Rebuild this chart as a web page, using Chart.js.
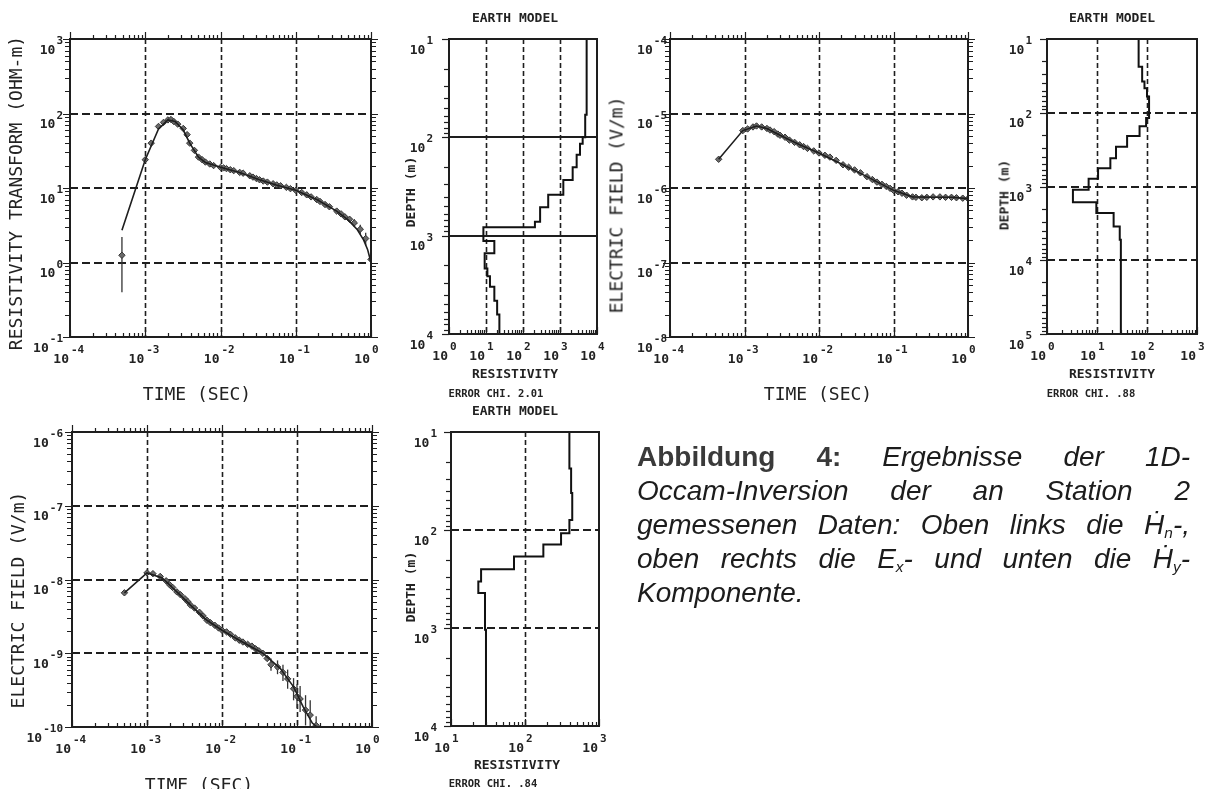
<!DOCTYPE html>
<html>
<head>
<meta charset="utf-8">
<script src="https://cdn.jsdelivr.net/npm/chart.js@4.4.1/dist/chart.umd.min.js"></script>
<style>
  body { margin: 0; background: #fff; }
  #page { position: relative; width: 1206px; height: 789px; overflow: hidden; background: #fff; }
  canvas { position: absolute; left: 0; top: 0; }
  .lbl { position: absolute; transform: translate(-50%, -50%); white-space: nowrap;
         font-family: "DejaVu Sans Mono", monospace; color: #222; }
  .rot { transform: translate(-50%, -50%) rotate(-90deg); }
  .ax { font-size: 18px; }
  .sm { font-size: 13px; font-weight: bold; }
  .xs { font-size: 10.5px; font-weight: bold; }
  #caption { position: absolute; left: 637px; top: 440px; width: 553px;
             font-family: "Liberation Sans", Arial, "DejaVu Sans", sans-serif; font-size: 28px; color: #1c1c1c; }
  .cl { height: 34px; line-height: 34px; }
  .j { text-align: justify; text-align-last: justify; }
  #caption b { color: #3a3a3a; }
  #caption sub { font-size: 55%; vertical-align: -0.25em; line-height: 0; }
</style>
</head>
<body>
<div id="page">
  <canvas id="c1" width="1206" height="789"></canvas>
  <canvas id="c2" width="1206" height="789"></canvas>
  <canvas id="c3" width="1206" height="789"></canvas>
  <canvas id="c4" width="1206" height="789"></canvas>
  <canvas id="c5" width="1206" height="789"></canvas>
  <canvas id="c6" width="1206" height="789"></canvas>

  <!-- top left: Hn resistivity transform -->
  <div class="lbl ax rot" style="left:15px; top:193px;">RESISTIVITY TRANSFORM (OHM-m)</div>
  <div class="lbl ax" style="left:197px; top:393px;">TIME (SEC)</div>

  <!-- earth model 1 -->
  <div class="lbl sm" style="left:515px; top:17px;">EARTH MODEL</div>
  <div class="lbl sm rot" style="left:410px; top:192px;">DEPTH (m)</div>
  <div class="lbl sm" style="left:515px; top:373px;">RESISTIVITY</div>
  <div class="lbl xs" style="left:496px; top:393px;">ERROR CHI. 2.01</div>

  <!-- top right: Ex -->
  <div class="lbl ax rot" style="left:616px; top:205px;">ELECTRIC FIELD (V/m)</div>
  <div class="lbl ax" style="left:818px; top:393px;">TIME (SEC)</div>

  <!-- earth model 2 -->
  <div class="lbl sm" style="left:1112px; top:17px;">EARTH MODEL</div>
  <div class="lbl sm rot" style="left:1004px; top:195px;">DEPTH (m)</div>
  <div class="lbl sm" style="left:1112px; top:373px;">RESISTIVITY</div>
  <div class="lbl xs" style="left:1091px; top:393px;">ERROR CHI. .88</div>

  <!-- bottom left: Hy -->
  <div class="lbl ax rot" style="left:17px; top:600px;">ELECTRIC FIELD (V/m)</div>
  <div class="lbl ax" style="left:199px; top:784px;">TIME (SEC)</div>

  <!-- earth model 3 -->
  <div class="lbl sm" style="left:515px; top:410px;">EARTH MODEL</div>
  <div class="lbl sm rot" style="left:410px; top:587px;">DEPTH (m)</div>
  <div class="lbl sm" style="left:517px; top:764px;">RESISTIVITY</div>
  <div class="lbl xs" style="left:493px; top:783px;">ERROR CHI. .84</div>

  <div id="caption">
    <div class="cl j"><b>Abbildung 4:</b> <i>Ergebnisse der 1D-</i></div>
    <div class="cl j"><i>Occam-Inversion der an Station 2</i></div>
    <div class="cl j"><i>gemessenen Daten: Oben links die Ḣ<sub>n</sub>-,</i></div>
    <div class="cl j"><i>oben rechts die E<sub>x</sub>- und unten die Ḣ<sub>y</sub>-</i></div>
    <div class="cl"><i>Komponente.</i></div>
  </div>
</div>

<script>
// ---- data ----

// Hn: resistivity transform (ohm-m) vs time (s)
const hnTime = [4.9e-4, 1.0e-3, 1.2e-3, 1.5e-3, 1.75e-3, 2.0e-3, 2.2e-3, 2.4e-3, 2.7e-3, 3.2e-3, 3.6e-3, 3.9e-3, 4.5e-3, 5.1e-3, 5.7e-3, 6.3e-3, 7.2e-3, 8.1e-3,
                1.0e-2, 1.1e-2, 1.2e-2, 1.35e-2, 1.5e-2, 1.8e-2, 2.0e-2, 2.45e-2, 2.7e-2, 3.0e-2, 3.3e-2, 3.7e-2, 4.2e-2, 5.0e-2, 5.6e-2, 6.3e-2, 7.5e-2, 8.5e-2,
                0.10, 0.12, 0.14, 0.16, 0.19, 0.21, 0.245, 0.28, 0.35, 0.4, 0.45, 0.52, 0.6, 0.72, 0.85, 1.0];
const hnRho = [1.25, 24, 40, 67, 76, 82, 83, 78, 72, 63, 52, 40, 32, 26, 24, 22.3, 21, 20,
               18.9, 18.6, 18.2, 17.6, 17.1, 16.2, 15.8, 14.6, 14.0, 13.4, 12.9, 12.4, 12.0, 11.4, 11.0, 10.7, 10.2, 9.8,
               9.3, 8.7, 8.1, 7.6, 7.0, 6.6, 6.0, 5.6, 4.9, 4.5, 4.1, 3.8, 3.4, 2.8, 2.1, 1.1];
const hnErrTime = [4.9e-4, 0.6, 0.72, 0.85, 1.0];
const hnErrLo = [0.4, 3.0, 2.4, 1.7, 0.9];
const hnErrHi = [2.2, 3.8, 3.2, 2.5, 1.3];
const hnModelTime = [4.9e-4, 1.0e-3, 1.5e-3, 2.0e-3, 2.5e-3, 3.2e-3, 3.9e-3, 5.1e-3, 6.3e-3, 1.0e-2, 1.8e-2, 3.3e-2, 5.5e-2, 0.1, 0.19, 0.35, 0.5, 0.65, 0.8, 0.9, 1.0];
const hnModelRho = [2.7, 24, 62, 82, 78, 60, 40, 26, 22, 19, 16.2, 12.9, 11, 9.3, 7.0, 4.9, 3.7, 2.8, 2.0, 1.5, 1.0];

// Ex: electric field (V/m) vs time (s)
const exTime = [4.5e-4, 9.5e-4, 1.1e-3, 1.3e-3, 1.45e-3, 1.7e-3, 2.0e-3, 2.2e-3, 2.5e-3, 2.8e-3, 3.0e-3, 3.5e-3, 4.0e-3, 4.7e-3, 5.5e-3, 6.2e-3, 7.0e-3, 8.5e-3,
                1.0e-2, 1.2e-2, 1.4e-2, 1.7e-2, 2.1e-2, 2.5e-2, 3.0e-2, 3.6e-2, 4.4e-2, 5.2e-2, 6.0e-2, 7.0e-2, 8.0e-2, 9.0e-2,
                0.1, 0.115, 0.13, 0.15, 0.18, 0.2, 0.24, 0.28, 0.34, 0.42, 0.5, 0.6, 0.7, 0.85, 1.0];
const exVal = [2.43e-6, 5.9e-6, 6.2e-6, 6.6e-6, 6.8e-6, 6.6e-6, 6.3e-6, 6.0e-6, 5.7e-6, 5.3e-6, 5.1e-6, 4.8e-6, 4.4e-6, 4.1e-6, 3.8e-6, 3.6e-6, 3.4e-6, 3.15e-6,
               2.95e-6, 2.75e-6, 2.6e-6, 2.35e-6, 2.05e-6, 1.9e-6, 1.75e-6, 1.6e-6, 1.42e-6, 1.3e-6, 1.2e-6, 1.12e-6, 1.05e-6, 9.9e-7,
               9.3e-7, 8.9e-7, 8.5e-7, 8.0e-7, 7.6e-7, 7.5e-7, 7.4e-7, 7.5e-7, 7.6e-7, 7.6e-7, 7.5e-7, 7.5e-7, 7.4e-7, 7.3e-7, 7.2e-7];
const exModelTime = [4.5e-4, 9.5e-4, 1.45e-3, 2.0e-3, 3.0e-3, 5.5e-3, 1.0e-2, 2.1e-2, 4.4e-2, 0.1, 0.18, 0.34, 0.6, 1.0];
const exModelVal = [2.43e-6, 5.9e-6, 6.8e-6, 6.3e-6, 5.1e-6, 3.8e-6, 2.95e-6, 2.05e-6, 1.42e-6, 9.3e-7, 7.6e-7, 7.5e-7, 7.5e-7, 7.2e-7];

// Hy: electric field (V/m) vs time (s)
const hyTime = [5e-4, 1e-3, 1.2e-3, 1.5e-3, 1.8e-3, 2e-3, 2.2e-3, 2.5e-3, 2.8e-3, 3.2e-3, 3.5e-3, 3.8e-3, 4.3e-3, 5e-3, 5.6e-3, 6.3e-3, 7e-3, 8e-3, 9e-3,
                1e-2, 1.15e-2, 1.3e-2, 1.5e-2, 1.7e-2, 1.9e-2, 2.2e-2, 2.5e-2, 2.8e-2, 3.1e-2, 3.5e-2, 4e-2, 4.5e-2, 5.5e-2, 6.5e-2, 7.5e-2, 9e-2,
                0.1, 0.11, 0.13, 0.15, 0.18];
const hyVal = [6.6e-9, 1.23e-8, 1.2e-8, 1.1e-8, 9.6e-9, 8.5e-9, 7.8e-9, 6.8e-9, 6.2e-9, 5.5e-9, 5.0e-9, 4.5e-9, 4.1e-9, 3.6e-9, 3.2e-9, 2.8e-9, 2.6e-9, 2.4e-9, 2.2e-9,
               2.05e-9, 1.95e-9, 1.8e-9, 1.62e-9, 1.5e-9, 1.42e-9, 1.32e-9, 1.25e-9, 1.15e-9, 1.08e-9, 1.0e-9, 8.5e-10, 7.0e-10, 6.5e-10, 5.5e-10, 4.5e-10, 3.3e-10,
               2.6e-10, 2.4e-10, 1.7e-10, 1.45e-10, 1.05e-10];
const hyErrTime = [4.5e-2, 5.5e-2, 6.5e-2, 7.5e-2, 9e-2, 0.1, 0.11, 0.13, 0.15, 0.18];
const hyErrLo = [5.8e-10, 5.2e-10, 4.2e-10, 3.3e-10, 2.3e-10, 1.8e-10, 1.6e-10, 1.05e-10, 1.0e-10, 1.0e-10];
const hyErrHi = [8.5e-10, 8.0e-10, 7.0e-10, 6.0e-10, 4.6e-10, 3.8e-10, 3.6e-10, 2.7e-10, 2.3e-10, 1.4e-10];
const hyModelTime = [5e-4, 1e-3, 1.6e-3, 2.5e-3, 3.8e-3, 6.3e-3, 1e-2, 1.7e-2, 3.5e-2, 6e-2, 9e-2, 0.12, 0.16, 0.185];
const hyModelVal = [6.6e-9, 1.23e-8, 1.05e-8, 6.8e-9, 4.5e-9, 2.8e-9, 2.05e-9, 1.5e-9, 1.0e-9, 6.2e-10, 3.5e-10, 1.9e-10, 1.13e-10, 1.0e-10];

// earth models: layer top depth (m) and resistivity (ohm-m)
const m1Top = [10, 59, 100, 116, 150, 202, 272, 383, 515, 724, 822, 1130, 1506, 2160, 2580, 3300, 4580, 6330];
const m1Res = [5250, 4800, 4100, 3470, 2820, 2200, 1230, 480, 290, 210, 8.5, 16.8, 9.2, 10.9, 12.8, 16.8, 20, 23];
const m1Bottom = 10000;

const m2Top = [10, 23.7, 37.8, 46.6, 60, 118, 153, 206, 288, 414, 565, 785, 1110, 1640, 2280, 3480, 5260];
const m2Res = [68, 80, 89, 100, 110, 96, 71, 40, 24, 18.5, 10.5, 6.8, 3.3, 9.7, 21.5, 28.5, 30];
const m2Bottom = 100000;

const m3Top = [10, 23.6, 42, 79, 108, 141, 186, 252, 335, 440, 1040];
const m3Res = [398, 420, 435, 398, 307, 177, 71, 25.5, 23.4, 28.8, 29.7];
const m3Bottom = 10000;

// ---- drawing helpers ----
const W = 1206, H = 789;
const INK = '#1e1e1e';

function pts(xs, ys) {
    return xs.map((x, i) => ({x: x, y: ys[i]}));
}

function profile(tops, res, bottom) {
    const p = tops.map((t, i) => ({x: res[i], y: t}));
    p.push({x: res[res.length - 1], y: bottom});
    return p;
}

function logTicks(min, max) {
    const out = [];
    for (let k = Math.floor(Math.log10(min)); k <= Math.ceil(Math.log10(max)); k++) {
        for (let m = 1; m <= 9; m++) {
            const v = m * Math.pow(10, k);
            if (v >= min * 0.999 && v <= max * 1.001) out.push({v: v, major: m === 1, k: k});
        }
    }
    return out;
}

// plotter style frame, dashed grid, tick marks, 10^n labels, error bars
const plotter = {
    id: 'plotter',
    beforeDatasetsDraw(chart, args, o) {
        const {ctx, chartArea: a, scales: {x, y}} = chart;
        ctx.save();
        ctx.strokeStyle = INK;
        // vertical grid
        ctx.lineWidth = 1.6;
        ctx.setLineDash([5, 3]);
        (o.xGrid || []).forEach(v => {
            const px = Math.round(x.getPixelForValue(v)) + 0.5;
            ctx.beginPath(); ctx.moveTo(px, a.top); ctx.lineTo(px, a.bottom); ctx.stroke();
        });
        // horizontal grid
        ctx.lineWidth = 2;
        ctx.setLineDash(o.yGridSolid ? [] : [8, 4]);
        (o.yGrid || []).forEach(v => {
            const py = Math.round(y.getPixelForValue(v));
            ctx.beginPath(); ctx.moveTo(a.left, py); ctx.lineTo(a.right, py); ctx.stroke();
        });
        ctx.setLineDash([]);
        // error bars
        if (o.err) {
            ctx.lineWidth = 1.3;
            ctx.strokeStyle = '#333';
            ctx.beginPath();
            ctx.rect(a.left, a.top, a.right - a.left, a.bottom - a.top);
            ctx.clip();
            o.err.t.forEach((t, i) => {
                const px = x.getPixelForValue(t);
                const y0 = y.getPixelForValue(o.err.lo[i]);
                const y1 = y.getPixelForValue(o.err.hi[i]);
                ctx.beginPath(); ctx.moveTo(px, y0); ctx.lineTo(px, y1); ctx.stroke();
            });
        }
        ctx.restore();
    },
    afterDatasetsDraw(chart, args, o) {
        const {ctx, chartArea: a, scales: {x, y}} = chart;
        ctx.save();
        ctx.strokeStyle = INK;
        ctx.fillStyle = '#222';
        // frame
        ctx.lineWidth = 2;
        ctx.strokeRect(a.left, a.top, a.right - a.left, a.bottom - a.top);
        // tick marks
        ctx.lineWidth = 1.2;
        const sides = o.sides || ['bottom', 'left'];
        logTicks(x.min, x.max).forEach(t => {
            const px = Math.round(x.getPixelForValue(t.v)) + 0.5;
            const len = t.major ? 7 : 4;
            ctx.beginPath();
            if (sides.includes('bottom')) { ctx.moveTo(px, a.bottom); ctx.lineTo(px, a.bottom - len); }
            if (sides.includes('top')) { ctx.moveTo(px, a.top); ctx.lineTo(px, a.top - len); }
            ctx.stroke();
        });
        logTicks(y.min, y.max).forEach(t => {
            const py = Math.round(y.getPixelForValue(t.v)) + 0.5;
            const len = t.major ? 7 : 5;
            ctx.beginPath();
            if (sides.includes('left')) { ctx.moveTo(a.left, py); ctx.lineTo(a.left - len, py); }
            if (sides.includes('right')) { ctx.moveTo(a.right, py); ctx.lineTo(a.right + len, py); }
            ctx.stroke();
        });
        // labels
        const big = 'bold 13px "DejaVu Sans Mono", monospace';
        const small = 'bold 11px "DejaVu Sans Mono", monospace';
        logTicks(x.min, x.max).filter(t => t.major).forEach(t => {
            const px = x.getPixelForValue(t.v);
            ctx.font = big; ctx.textAlign = 'right';
            ctx.fillText('10', px - 1, a.bottom + 26);
            ctx.font = small; ctx.textAlign = 'left';
            ctx.fillText(String(t.k), px + 1, a.bottom + 16);
        });
        const gap = o.yGap || 8;
        logTicks(y.min, y.max).filter(t => t.major).forEach(t => {
            const py = y.getPixelForValue(t.v);
            ctx.font = small; ctx.textAlign = 'right';
            const w = ctx.measureText(String(t.k)).width;
            ctx.fillText(String(t.k), a.left - gap, py + 5);
            ctx.font = big;
            ctx.fillText('10', a.left - gap - w - 1, py + 14.5);
        });
        ctx.restore();
    }
};

function makeChart(id, area, xr, yr, datasets, opts) {
    return new Chart(document.getElementById(id), {
        type: 'scatter',
        data: { datasets: datasets },
        options: {
            responsive: false,
            animation: false,
            devicePixelRatio: 1,
            layout: { padding: { left: area[0], top: area[1], right: W - area[2], bottom: H - area[3] } },
            scales: {
                x: { type: 'logarithmic', min: xr[0], max: xr[1], display: false },
                y: { type: 'logarithmic', min: yr[0], max: yr[1], display: false, reverse: !!opts.reverse }
            },
            plugins: {
                legend: { display: false },
                tooltip: { enabled: false },
                plotter: opts
            }
        },
        plugins: [plotter]
    });
}

function modelLine(data) {
    return { data: data, showLine: true, pointRadius: 0, borderColor: INK, borderWidth: 1.6, tension: 0 };
}

function markers(data) {
    return { data: data, showLine: false, pointStyle: 'rectRot', pointRadius: 3.2,
             backgroundColor: '#6a6a6a', borderColor: '#333', borderWidth: 1 };
}

function stepLine(data) {
    return { data: data, showLine: true, stepped: 'after', pointRadius: 0, borderColor: '#111', borderWidth: 2 };
}

// top left
makeChart('c1', [70, 39, 371, 337], [1e-4, 1], [0.1, 1000], [
    modelLine(pts(hnModelTime, hnModelRho)),
    markers(pts(hnTime, hnRho))
], { xGrid: [1e-3, 1e-2, 1e-1], yGrid: [1, 10, 100], sides: ['bottom', 'top', 'left', 'right'], yGap: 7,
     err: { t: hnErrTime, lo: hnErrLo, hi: hnErrHi } });

// earth model 1
makeChart('c2', [449, 39, 597, 334], [1, 1e4], [10, 1e4], [
    stepLine(profile(m1Top, m1Res, m1Bottom))
], { xGrid: [10, 100, 1000], yGrid: [100, 1000], yGridSolid: true, reverse: true, yGap: 16 });

// top right
makeChart('c3', [670, 39, 968, 337], [1e-4, 1], [1e-8, 1e-4], [
    modelLine(pts(exModelTime, exModelVal)),
    markers(pts(exTime, exVal))
], { xGrid: [1e-3, 1e-2, 1e-1], yGrid: [1e-7, 1e-6, 1e-5], sides: ['bottom', 'top', 'left', 'right'], yGap: 3 });

// earth model 2
makeChart('c4', [1047, 39, 1197, 334], [1, 1000], [10, 1e5], [
    stepLine(profile(m2Top, m2Res, m2Bottom))
], { xGrid: [10, 100], yGrid: [100, 1000, 10000], reverse: true, yGap: 15 });

// bottom left
makeChart('c5', [72, 432, 372, 727], [1e-4, 1], [1e-10, 1e-6], [
    modelLine(pts(hyModelTime, hyModelVal)),
    markers(pts(hyTime, hyVal))
], { xGrid: [1e-3, 1e-2, 1e-1], yGrid: [1e-9, 1e-8, 1e-7], sides: ['bottom', 'top', 'left', 'right'], yGap: 9,
     err: { t: hyErrTime, lo: hyErrLo, hi: hyErrHi } });

// earth model 3
makeChart('c6', [451, 432, 599, 726], [10, 1000], [10, 1e4], [
    stepLine(profile(m3Top, m3Res, m3Bottom))
], { xGrid: [100], yGrid: [100, 1000], reverse: true, yGap: 14 });
</script>
</body>
</html>
